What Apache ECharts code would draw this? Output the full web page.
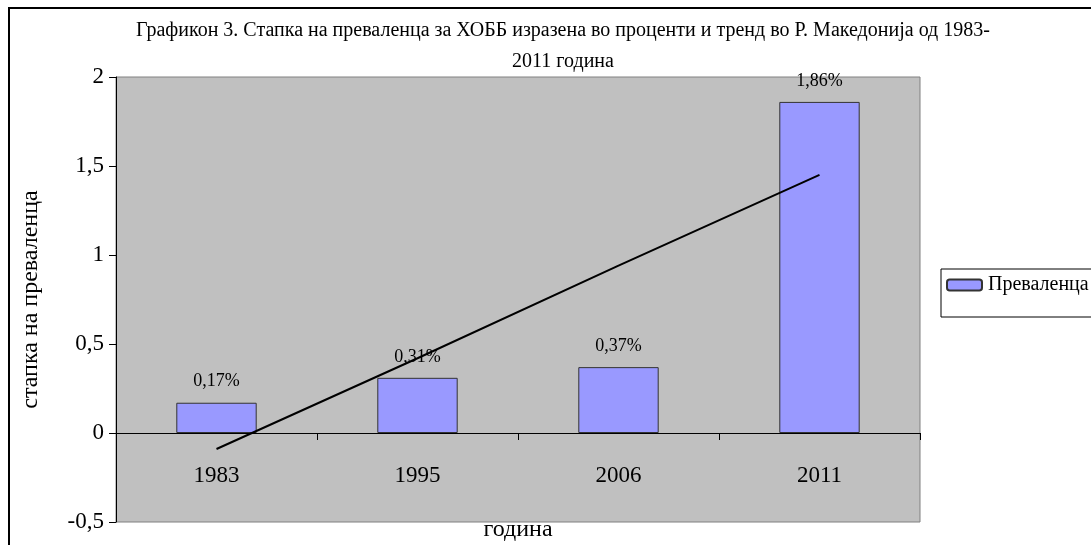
<!DOCTYPE html>
<html>
<head>
<meta charset="utf-8">
<script src="https://cdn.jsdelivr.net/npm/echarts@6/dist/echarts.min.js"></script>
<style>
html,body{margin:0;padding:0;background:#fff;}
#chart{width:1091px;height:545px;}
</style>
</head>
<body>
<div id="chart"></div>
<script>
var categories = ['1983', '1995', '2006', '2011'];
var prevalence = [0.17, 0.31, 0.37, 1.86];
var barLabels = ['0,17%', '0,31%', '0,37%', '1,86%'];
var trend = [-0.09, 0.42, 0.94, 1.45];
var yTicks = { min: -0.5, max: 2, interval: 0.5 };
var titleText = 'Графикон 3. Стапка на преваленца за ХОББ изразена во проценти и тренд во Р. Македонија од 1983-\n2011 година';
var seriesName = 'Преваленца';
var yName = 'стапка на преваленца';
var xName = 'година';

var FONT = '"Liberation Serif", "Times New Roman", serif';
var chart = echarts.init(document.getElementById('chart'), null, {renderer: 'canvas'});
chart.setOption({
  animation: false,
  backgroundColor: '#ffffff',
  title: {
    text: titleText,
    left: 558,
    top: 10,
    textAlign: 'center',
    textStyle: {fontFamily: FONT, fontSize: 20, fontWeight: 'normal', color: '#000', lineHeight: 31}
  },
  legend: {
    data: [seriesName],
    left: 941,
    top: 269,
    orient: 'vertical',
    itemWidth: 35,
    itemHeight: 11,
    itemGap: 0,
    padding: [6, 30, 22, 5],
    borderColor: '#000',
    borderWidth: 1,
    backgroundColor: '#fff',
    textStyle: {fontFamily: FONT, fontSize: 20, color: '#000', padding: [0, 0, 0, 1]}
  },
  grid: {
    left: 116, right: 171, top: 77, bottom: 23,
    containLabel: false,
    outerBoundsMode: 'none',
    show: true,
    backgroundColor: '#c0c0c0',
    borderColor: '#808080',
    borderWidth: 1
  },
  xAxis: {
    type: 'category',
    data: categories,
    boundaryGap: true,
    name: xName,
    nameLocation: 'middle',
    nameGap: -4,
    nameMoveOverlap: false,
    nameTextStyle: {fontFamily: FONT, fontSize: 24, color: '#000'},
    axisLine: {onZero: true, lineStyle: {color: '#000', width: 1}},
    axisTick: {show: true, inside: false, length: 7, lineStyle: {color: '#000'}},
    axisLabel: {fontFamily: FONT, fontSize: 23, color: '#000', margin: -58},
    splitLine: {show: false}
  },
  yAxis: {
    type: 'value',
    min: yTicks.min,
    max: yTicks.max,
    interval: yTicks.interval,
    name: yName,
    nameLocation: 'middle',
    nameGap: 73,
    nameRotate: 90,
    nameTextStyle: {fontFamily: FONT, fontSize: 24, color: '#000'},
    axisLine: {show: true, lineStyle: {color: '#000', width: 1}},
    axisTick: {show: true, inside: false, length: 7, lineStyle: {color: '#000'}},
    axisLabel: {
      fontFamily: FONT, fontSize: 23, color: '#000', margin: 12,
      formatter: function (v) { return String(v).replace('.', ','); }
    },
    splitLine: {show: false}
  },
  series: [
    {
      name: seriesName,
      type: 'bar',
      data: prevalence,
      barWidth: '40%',
      itemStyle: {color: '#9999ff', borderColor: '#333333', borderWidth: 1},
      label: {
        show: true,
        position: 'top',
        distance: 12,
        fontFamily: FONT,
        fontSize: 18,
        color: '#000',
        formatter: function (p) { return barLabels[p.dataIndex]; }
      },
      z: 2
    },
    {
      name: 'trend',
      type: 'line',
      data: trend,
      symbol: 'none',
      lineStyle: {color: '#000', width: 2},
      z: 3
    }
  ],
  graphic: [
    {
      type: 'rect',
      silent: true,
      shape: {x: 9, y: 8, width: 1200, height: 700},
      style: {fill: 'none', stroke: '#000', lineWidth: 2},
      z: 100
    }
  ]
});
</script>
</body>
</html>
